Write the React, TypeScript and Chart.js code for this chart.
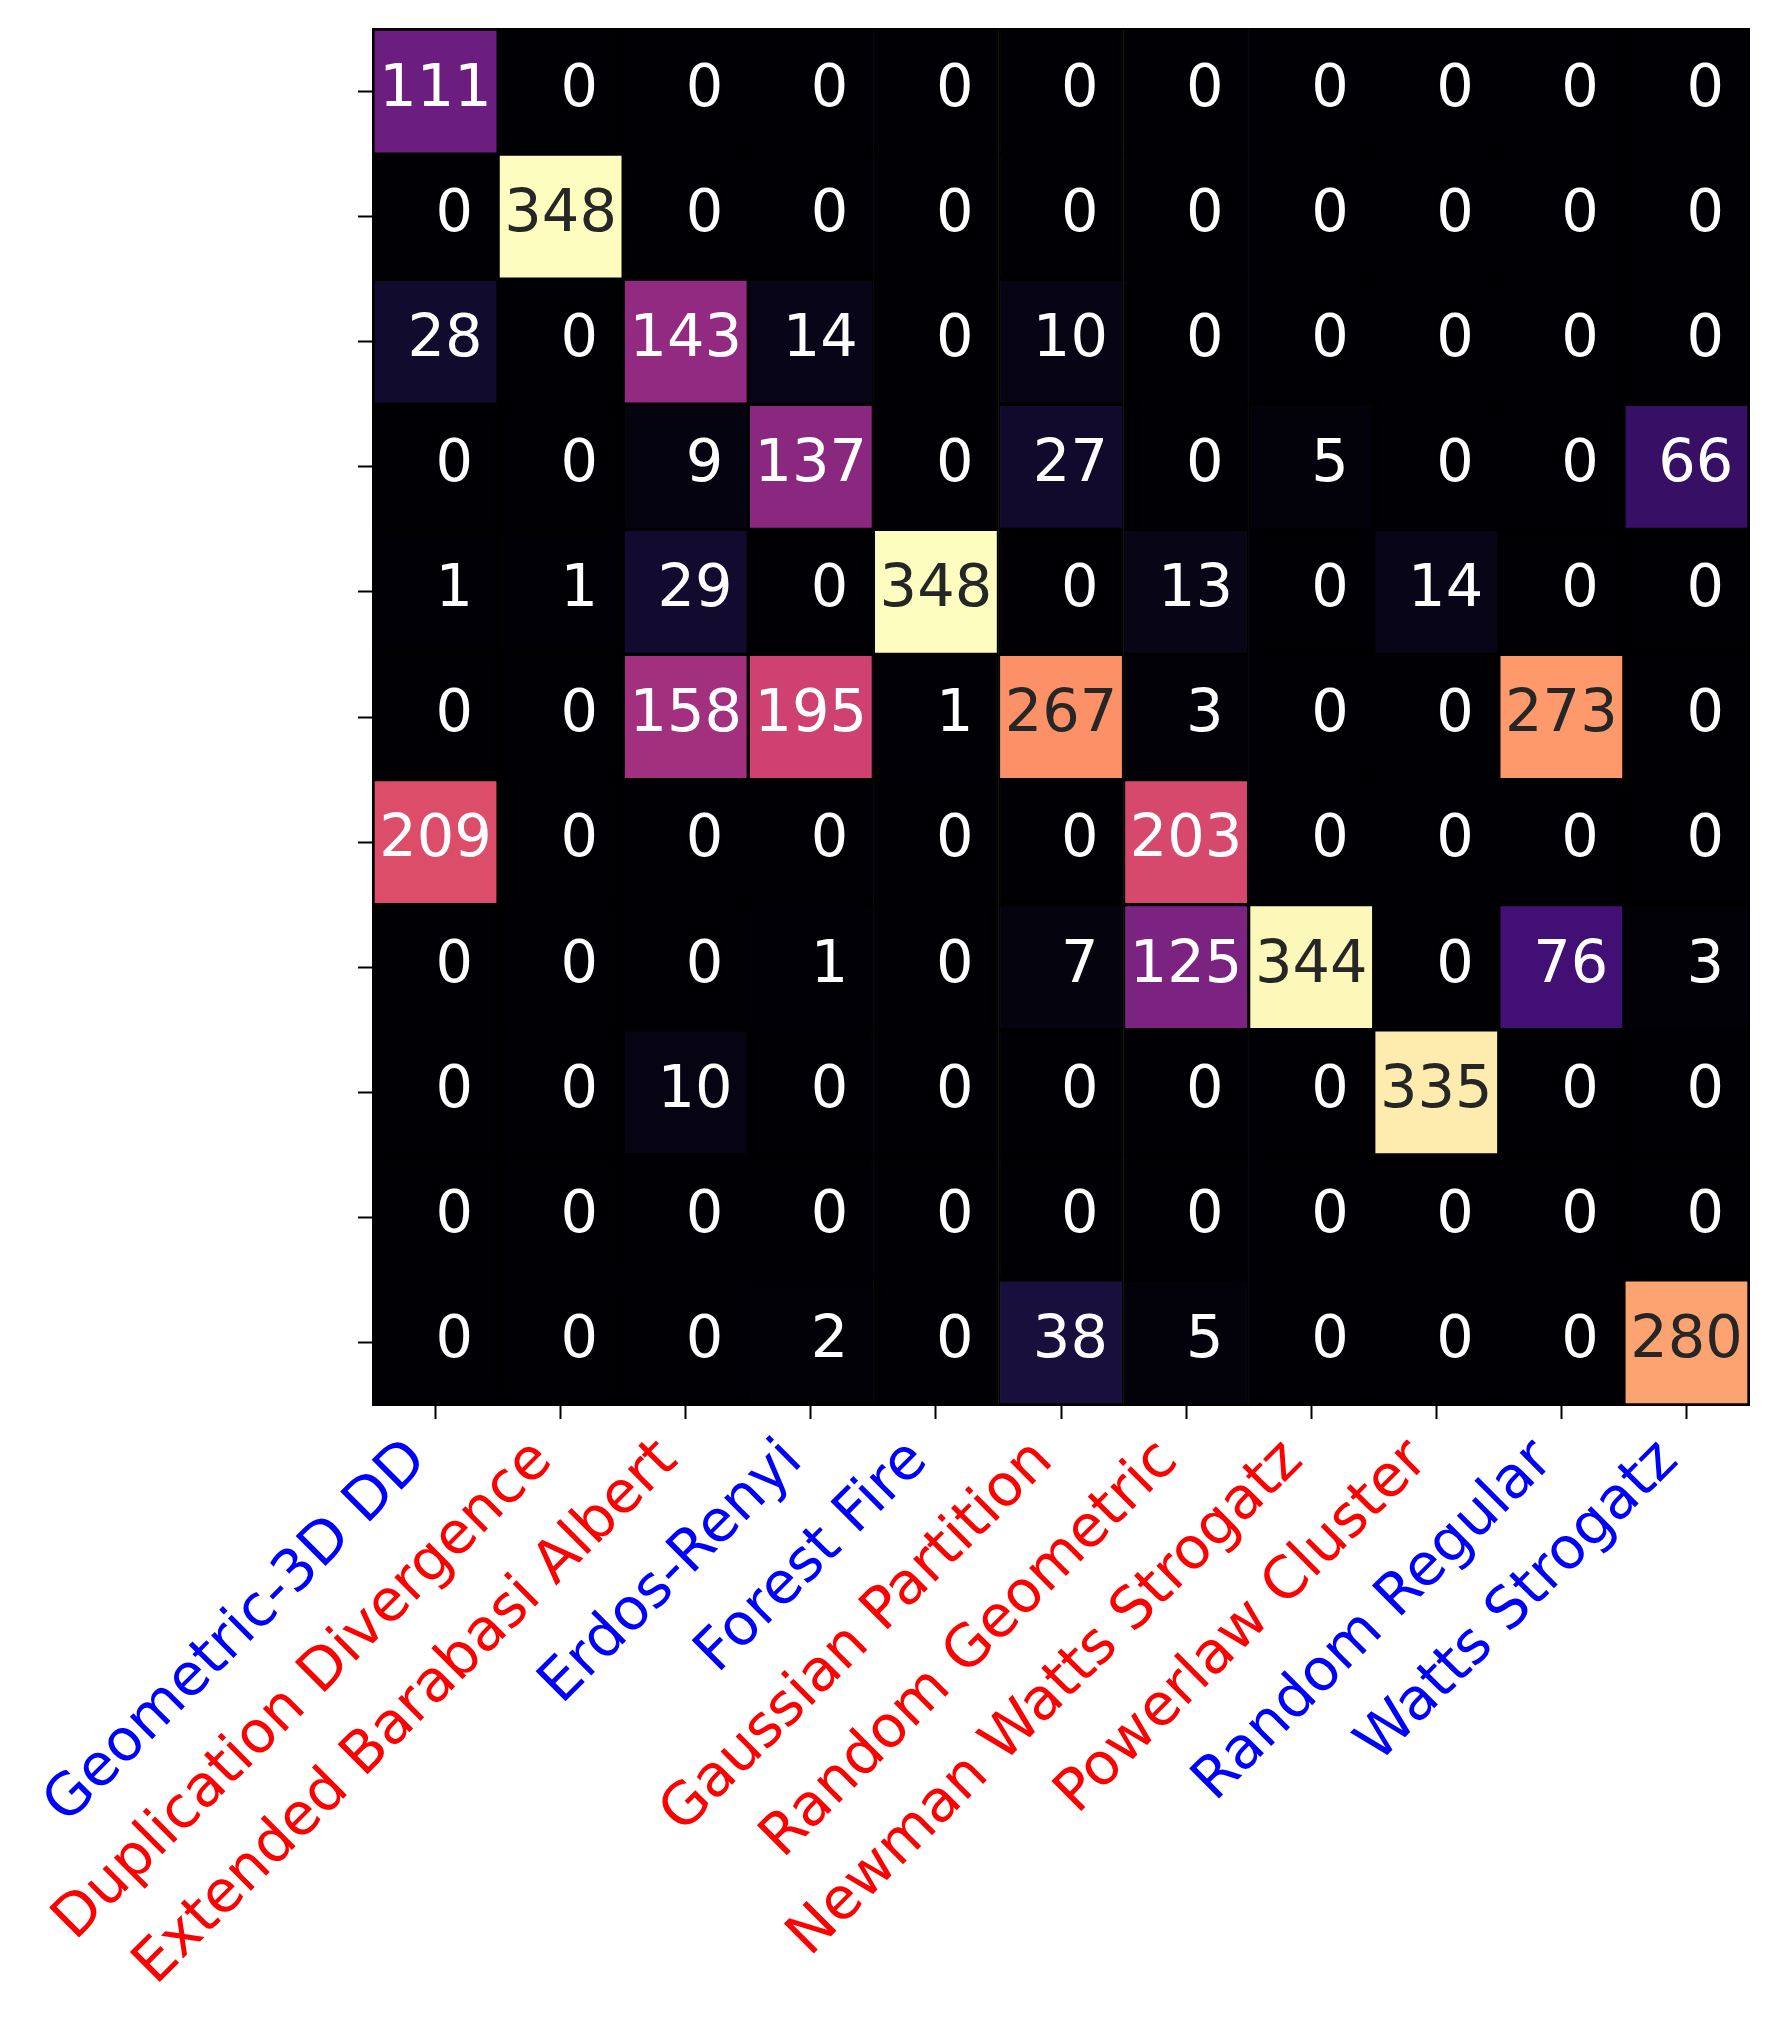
import { useEffect, useRef } from 'react';
import { Chart, registerables } from 'chart.js';

Chart.register(...registerables);

// graph models, same order on both axes (only x gets text labels)
const models = [
  'Geometric-3D DD',
  'Duplication Divergence',
  'Extended Barabasi Albert',
  'Erdos-Renyi',
  'Forest Fire',
  'Gaussian Partition',
  'Random Geometric',
  'Newman Watts Strogatz',
  'Powerlaw Cluster',
  'Random Regular',
  'Watts Strogatz',
];

const labelColors = ['blue', 'red', 'red', 'blue', 'blue', 'red', 'red', 'red', 'red', 'blue', 'blue'];

// confusion matrix rows, top to bottom
const row0 = [111, 0, 0, 0, 0, 0, 0, 0, 0, 0, 0];
const row1 = [0, 348, 0, 0, 0, 0, 0, 0, 0, 0, 0];
const row2 = [28, 0, 143, 14, 0, 10, 0, 0, 0, 0, 0];
const row3 = [0, 0, 9, 137, 0, 27, 0, 5, 0, 0, 66];
const row4 = [1, 1, 29, 0, 348, 0, 13, 0, 14, 0, 0];
const row5 = [0, 0, 158, 195, 1, 267, 3, 0, 0, 273, 0];
const row6 = [209, 0, 0, 0, 0, 0, 203, 0, 0, 0, 0];
const row7 = [0, 0, 0, 1, 0, 7, 125, 344, 0, 76, 3];
const row8 = [0, 0, 10, 0, 0, 0, 0, 0, 335, 0, 0];
const row9 = [0, 0, 0, 0, 0, 0, 0, 0, 0, 0, 0];
const row10 = [0, 0, 0, 2, 0, 38, 5, 0, 0, 0, 280];

const counts = [row0, row1, row2, row3, row4, row5, row6, row7, row8, row9, row10];
const vmax = 348;

// magma colormap, 10 evenly spaced stops
const magmaStops = [
  '#000004', '#180f3d', '#440f76', '#721f81', '#9e2f7f',
  '#cd4071', '#f1605d', '#fd9668', '#feca8d', '#fcfdbf',
];

function hexToRgb(hex: string) {
  const n = parseInt(hex.slice(1), 16);
  return [(n >> 16) & 255, (n >> 8) & 255, n & 255];
}

function magma(t: number) {
  const x = Math.min(Math.max(t, 0), 1) * (magmaStops.length - 1);
  const i = Math.min(Math.floor(x), magmaStops.length - 2);
  const f = x - i;
  const a = hexToRgb(magmaStops[i]);
  const b = hexToRgb(magmaStops[i + 1]);
  const c = a.map((v, k) => Math.round(v + (b[k] - v) * f));
  return `rgb(${c[0]}, ${c[1]}, ${c[2]})`;
}

// same rule seaborn uses to pick annotation colour
function annotColor(t: number) {
  const m = magma(t).match(/\d+/g)!.map(Number);
  const lin = m.map((v) => {
    const s = v / 255;
    return s <= 0.03928 ? s / 12.92 : Math.pow((s + 0.055) / 1.055, 2.4);
  });
  const lum = 0.2126 * lin[0] + 0.7152 * lin[1] + 0.0722 * lin[2];
  return lum > 0.408 ? '#262626' : '#ffffff';
}

const FONT = 'DejaVu Sans';

const annotPlugin = {
  id: 'annot',
  afterDatasetsDraw(chart: any) {
    const { ctx, scales } = chart;
    ctx.save();
    ctx.font = `59px "${FONT}"`;
    ctx.textAlign = 'center';
    ctx.textBaseline = 'middle';
    counts.forEach((row, r) => {
      row.forEach((v, c) => {
        ctx.fillStyle = annotColor(v / vmax);
        // values are printed as width-3 fields, so short numbers sit right of centre
        ctx.fillText(String(v).padStart(3, ' '), scales.x.getPixelForValue(c), scales.y.getPixelForValue(r) - 1);
      });
    });
    ctx.restore();
  },
  afterDraw(chart: any) {
    const { ctx, chartArea } = chart;
    ctx.save();
    ctx.strokeStyle = '#000000';
    ctx.lineWidth = 2;
    ctx.strokeRect(chartArea.left, chartArea.top, chartArea.right - chartArea.left, chartArea.bottom - chartArea.top);
    ctx.restore();
  },
};

export default function App() {
  const chartRef = useRef<HTMLCanvasElement>(null);
  const chartInstance = useRef<Chart | null>(null);

  useEffect(() => {
    if (!chartRef.current) return;
    if (chartInstance.current) chartInstance.current.destroy();
    const ctx = chartRef.current.getContext('2d');
    if (!ctx) return;

    Chart.defaults.font.family = FONT;

    chartInstance.current = new Chart(ctx, {
      type: 'bar',
      data: {
        labels: models,
        datasets: counts.map((row, r) => ({
          label: `row ${r}`,
          data: row.map(() => [r - 0.5, r + 0.5]),
          backgroundColor: row.map((v) => magma(v / vmax)),
          borderColor: '#000000',
          borderWidth: 2,
          borderSkipped: false,
          grouped: false,
          barPercentage: 1,
          categoryPercentage: 1,
        })),
      },
      options: {
        responsive: true,
        maintainAspectRatio: false,
        animation: false,
        events: [],
        layout: { padding: { top: 29, right: 31, left: 0, bottom: 0 } },
        plugins: {
          legend: { display: false },
          tooltip: { enabled: false },
        },
        scales: {
          x: {
            type: 'category',
            offset: true,
            grid: { offset: false, drawOnChartArea: false, tickLength: 14, tickWidth: 2, tickColor: '#000000' },
            border: { display: true, color: '#000000', width: 2 },
            ticks: {
              autoSkip: false,
              maxRotation: 45,
              minRotation: 45,
              padding: 8,
              labelOffset: -17,
              color: (c: any) => labelColors[c.index],
              font: { family: FONT, size: 58 },
            },
            afterFit: (s: any) => {
              s.height = 628;
              s.paddingLeft = 0;
              s.paddingRight = 0;
            },
          },
          y: {
            type: 'linear',
            reverse: true,
            min: -0.5,
            max: 10.5,
            grid: { drawOnChartArea: false, tickLength: 15, tickWidth: 2, tickColor: '#000000' },
            border: { display: true, color: '#000000', width: 2 },
            ticks: { callback: () => '', font: { size: 10 } },
            afterBuildTicks: (s: any) => {
              s.ticks = counts.map((_, i) => ({ value: i }));
            },
            afterFit: (s: any) => {
              s.width = 373;
              s.paddingTop = 0;
              s.paddingBottom = 0;
            },
          },
        },
      },
      plugins: [annotPlugin],
    });

    return () => {
      if (chartInstance.current) {
        chartInstance.current.destroy();
        chartInstance.current = null;
      }
    };
  }, []);

  return (
    <div style={{ position: 'absolute', left: 0, top: 0, width: 1780, height: 2033, background: '#ffffff' }}>
      <canvas ref={chartRef} />
    </div>
  );
}
